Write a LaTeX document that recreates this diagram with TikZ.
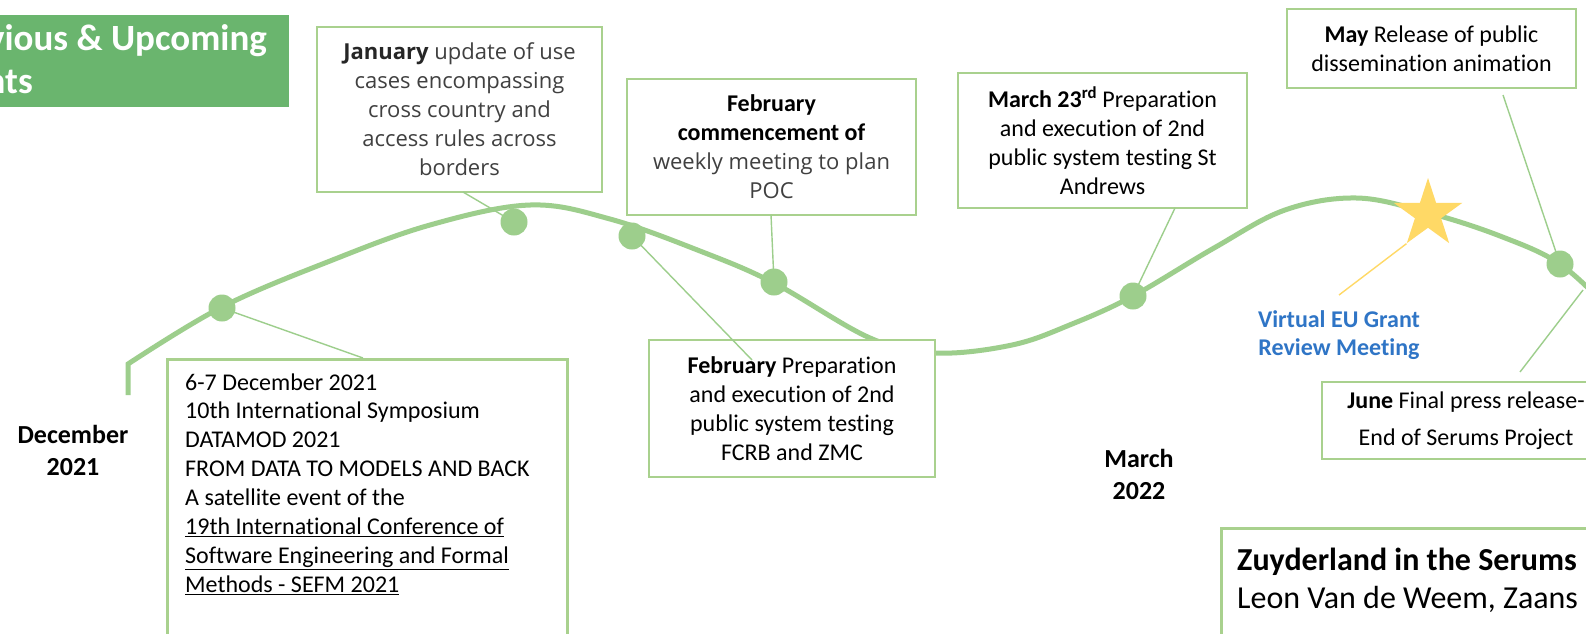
\documentclass[tikz,border=0pt]{standalone}
\usepackage{fontspec}
\setmainfont{Carlito}[RawFeature={-liga,-clig,-calt,-dlig}]
\newfontfamily\segoe{Open Sans}
\usetikzlibrary{shapes.geometric}
\definecolor{curvegreen}{RGB}{157,206,140}
\definecolor{boxgreen}{RGB}{169,209,142}
\definecolor{headgreen}{RGB}{106,181,110}
\definecolor{evblue}{RGB}{47,117,198}
\definecolor{staryellow}{RGB}{255,217,102}
\definecolor{textgray}{RGB}{64,64,64}
\tikzset{
  curveline/.style={draw=curvegreen, line width=5pt},
  conn/.style={draw=curvegreen, line width=1.4pt},
  yconn/.style={draw=staryellow, line width=1.4pt},
  evbox/.style={draw=boxgreen, line width=2.5pt, fill=white, align=center, inner sep=0pt, font=\fontsize{24}{29}\selectfont},
  plainbox/.style={draw=boxgreen, line width=2.5pt, fill=white, inner sep=0pt},
  dot/.style={circle, fill=curvegreen, minimum size=27pt, inner sep=0pt},
  month/.style={font=\fontsize{26}{32}\selectfont\bfseries, align=center, inner sep=0pt},
  headtext/.style={font=\fontsize{37}{38}\selectfont\bfseries, text=white, inner sep=0pt},
}
\begin{document}
\begin{tikzpicture}[x=1pt,y=-1pt]
\useasboundingbox (0,0) rectangle (1586,633);
\clip (0,0) rectangle (1586,633);
\fill[white] (0,0) rectangle (1586,633);

% header
\node[fill=headgreen, minimum width=295pt, minimum height=92pt, inner sep=0pt, anchor=north west] (head) at (-6,15) {};
\node[headtext, anchor=base east] (head1) at (267,50) {vious \& Upcoming};
\node[headtext, anchor=base east] (head2) at (33,93) {nts};

% wave
\draw[curveline] (128,395) -- plot[smooth, tension=0.6] coordinates {(128,364) (222,307) (330,261) (430,225) (530,205) (610,219) (700,251) (774,283) (870,338) (935,353) (1012,345) (1072,324) (1133,296) (1214,248) (1285,210) (1357,198) (1429,213) (1500,236) (1560,264) (1610,310)};

% dots (positions)
\coordinate (p1) at (222,308);
\coordinate (p2) at (514,222);
\coordinate (p3) at (632,236);
\coordinate (p4) at (774,282);
\coordinate (p5) at (1133,296);
\coordinate (p6) at (1560,264);
\coordinate (p7) at (1583,290);

% boxes
\node[evbox, minimum width=285pt, minimum height=165pt, text=textgray, font=\segoe\fontsize{22}{29}\selectfont] (jan) at (459.5,109.5)
  {\textbf{\color{black!85}January} update of use\\cases encompassing\\cross country and\\access rules across\\borders};
\node[evbox, minimum width=289pt, minimum height=136pt, text=textgray] (febc) at (771.5,147)
  {\textbf{\color{black}February}\\\textbf{\color{black}commencement of}\\{\segoe\fontsize{22}{29}\selectfont weekly meeting to plan}\\{\segoe\fontsize{22}{29}\selectfont POC}};
\node[evbox, minimum width=289pt, minimum height=135pt] (mar) at (1102.5,140.5)
  {\textbf{March 23\textsuperscript{rd}} Preparation\\and execution of 2nd\\public system testing St\\Andrews};
\node[evbox, minimum width=289pt, minimum height=79pt] (may) at (1431.5,48.5)
  {\textbf{May} Release of public\\dissemination animation};
\node[evbox, minimum width=288pt, minimum height=77pt, font=\fontsize{24}{36.7}\selectfont] (june) at (1466,420.5)
  {\textbf{June} Final press release-\\End of Serums Project};
\node[plainbox, minimum width=400pt, minimum height=320pt, anchor=north west] (dm) at (166,358) {};
\node[anchor=north west, align=left, inner sep=0pt, font=\fontsize{24}{28.9}\selectfont] (dmt) at (185,373.2)
  {6-7 December 2021\\10th International Symposium\\DATAMOD 2021\\FROM DATA TO MODELS AND BACK\\A satellite event of the\\\underline{19th International Conference of}\\\underline{Software Engineering and Formal}\\\underline{Methods - SEFM 2021}};
\node[plainbox, minimum width=420pt, minimum height=150pt, anchor=north west] (zu) at (1220,527) {};
\node[anchor=north west, align=left, inner sep=0pt, font=\fontsize{32}{38}\selectfont] (zut) at (1237,547.6)
  {\textbf{Zuyderland in the Serums}\\Leon Van de Weem, Zaans};

% connector ends
\coordinate (dm-c) at (363,358);
\coordinate (jan-c) at (463,192);
\coordinate (febc-c) at (771,215);
\coordinate (febp-c) at (752,360);
\coordinate (mar-c) at (1175,208);
\coordinate (may-c) at (1503,95);
\coordinate (june-c) at (1520,372);

% Feb preparation box (covers the wave)
\node[evbox, minimum width=286pt, minimum height=137pt] (febp) at (792,408.5)
  {\textbf{February} Preparation\\and execution of 2nd\\public system testing\\FCRB and ZMC};

% connectors
\draw[conn] (p1) -- (dm-c);
\draw[conn] (jan-c) -- (p2);
\draw[conn] (febc-c) -- (p4);
\draw[conn] (p3) -- (febp-c);
\draw[conn] (mar-c) -- (p5);
\draw[conn] (may-c) -- (p6);
\draw[conn] (june-c) -- (p7);

% dots
\node[dot] (d1) at (p1) {};
\node[dot] (d2) at (p2) {};
\node[dot] (d3) at (p3) {};
\node[dot] (d4) at (p4) {};
\node[dot] (d5) at (p5) {};
\node[dot] (d6) at (p6) {};

% star and grant review label
\node[anchor=north, align=center, inner sep=0pt, font=\fontsize{24}{28}\selectfont\bfseries, text=evblue] (grant) at (1339,310)
  {Virtual EU Grant\\Review Meeting};
\coordinate (grant-c) at (1339,295);
\node[star, star points=5, star point ratio=2.618, minimum size=72pt, inner sep=0pt, fill=staryellow] (star) at (1428,214) {};
\draw[yconn] (star.outer point 3) -- (grant-c);

% month labels
\node[month, anchor=north] (dec) at (73,424.7) {December\\2021};
\node[month, anchor=north] (march) at (1139,448.7) {March\\2022};
\end{tikzpicture}
\end{document}
